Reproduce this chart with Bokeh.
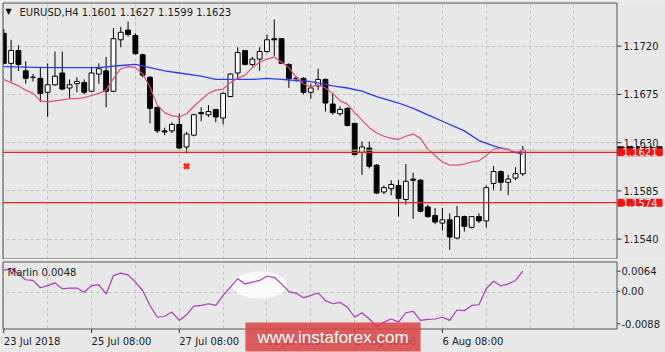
from bokeh.plotting import figure
from bokeh.layouts import column
from bokeh.models import Range1d, FixedTicker, Label
from bokeh.core.properties import value
from bokeh.embed import file_html
from bokeh.resources import INLINE

# ---------------- data ----------------
symbol = "EURUSD,H4"
bars = list(range(72))
opens = [1.1732, 1.1704, 1.1716, 1.1697, 1.1691, 1.1690, 1.1677, 1.1684, 1.1695, 1.1681,
         1.1685, 1.1686, 1.1678, 1.1694, 1.1697, 1.1678, 1.1726, 1.1735, 1.1730, 1.1712,
         1.1691, 1.1663, 1.1641, 1.1641, 1.1647, 1.1626, 1.1637, 1.1658, 1.1656, 1.1661,
         1.1653, 1.1673, 1.1695, 1.1716, 1.1703, 1.1708, 1.1715, 1.1727, 1.1727, 1.1703,
         1.1690, 1.1690, 1.1677, 1.1683, 1.1689, 1.1666, 1.1657, 1.1662, 1.1648, 1.1621,
         1.1625, 1.1609, 1.1584, 1.1587, 1.1590, 1.1577, 1.1596, 1.1595, 1.1570, 1.1562,
         1.1555, 1.1558, 1.1541, 1.1561, 1.1551, 1.1561, 1.1557, 1.1592, 1.1603, 1.1593,
         1.1597, 1.1601]
highs = [1.1736, 1.1726, 1.1721, 1.1706, 1.1694, 1.1700, 1.1704, 1.1715, 1.1715, 1.1689,
         1.1691, 1.1689, 1.1700, 1.1704, 1.1710, 1.1737, 1.1738, 1.1743, 1.1732, 1.1713,
         1.1692, 1.1663, 1.1644, 1.1649, 1.1657, 1.1640, 1.1657, 1.1663, 1.1665, 1.1661,
         1.1677, 1.1695, 1.1719, 1.1716, 1.1710, 1.1719, 1.1731, 1.1745, 1.1727, 1.1704,
         1.1692, 1.1691, 1.1685, 1.1699, 1.1690, 1.1676, 1.1664, 1.1663, 1.1648, 1.1631,
         1.1631, 1.1610, 1.1590, 1.1595, 1.1595, 1.1610, 1.1602, 1.1596, 1.1572, 1.1569,
         1.1569, 1.1564, 1.1571, 1.1562, 1.1561, 1.1564, 1.1590, 1.1608, 1.1604, 1.1600,
         1.1607, 1.1627]
lows = [1.1703, 1.1687, 1.1697, 1.1685, 1.1687, 1.1668, 1.1654, 1.1683, 1.1679, 1.1671,
        1.1677, 1.1675, 1.1677, 1.1685, 1.1663, 1.1677, 1.1719, 1.1729, 1.1712, 1.1691,
        1.1648, 1.1639, 1.1637, 1.1639, 1.1624, 1.1620, 1.1636, 1.1650, 1.1654, 1.1649,
        1.1647, 1.1673, 1.1690, 1.1702, 1.1701, 1.1697, 1.1714, 1.1711, 1.1704, 1.1681,
        1.1687, 1.1675, 1.1671, 1.1679, 1.1659, 1.1656, 1.1655, 1.1645, 1.1618, 1.1600,
        1.1606, 1.1582, 1.1582, 1.1581, 1.1561, 1.1572, 1.1559, 1.1565, 1.1560, 1.1554,
        1.1548, 1.1530, 1.1540, 1.1547, 1.1550, 1.1555, 1.1551, 1.1586, 1.1585, 1.1581,
        1.1595, 1.1599]
closes = [1.1704, 1.1716, 1.1703, 1.1690, 1.1691, 1.1676, 1.1684, 1.1692, 1.1680, 1.1684,
          1.1687, 1.1677, 1.1695, 1.1699, 1.1678, 1.1727, 1.1733, 1.1731, 1.1713, 1.1693,
          1.1662, 1.1641, 1.1640, 1.1647, 1.1625, 1.1638, 1.1656, 1.1657, 1.1659, 1.1654,
          1.1676, 1.1694, 1.1714, 1.1703, 1.1708, 1.1715, 1.1726, 1.1726, 1.1704, 1.1690,
          1.1690, 1.1677, 1.1681, 1.1689, 1.1667, 1.1658, 1.1661, 1.1646, 1.1619, 1.1626,
          1.1608, 1.1583, 1.1588, 1.1591, 1.1578, 1.1594, 1.1595, 1.1566, 1.1561, 1.1556,
          1.1558, 1.1542, 1.1561, 1.1552, 1.1561, 1.1557, 1.1588, 1.1603, 1.1593, 1.1596,
          1.1601, 1.1623]
red_ma = [1.1689, 1.1686, 1.1683, 1.1679, 1.1676, 1.1669, 1.1668, 1.1669, 1.1670, 1.1671,
          1.1671, 1.1672, 1.1674, 1.1676, 1.1679, 1.1690, 1.1699, 1.1701, 1.1700, 1.1694,
          1.1682, 1.1665, 1.1658, 1.1655, 1.1654, 1.1657, 1.1664, 1.1670, 1.1676, 1.1679,
          1.1680, 1.1686, 1.1690, 1.1693, 1.1700, 1.1705, 1.1708, 1.1710, 1.1705, 1.1700,
          1.1691, 1.1685, 1.1682, 1.1684, 1.1681, 1.1676, 1.1669, 1.1666, 1.1658, 1.1651,
          1.1644, 1.1639, 1.1636, 1.1634, 1.1633, 1.1636, 1.1638, 1.1634, 1.1624, 1.1618,
          1.1612, 1.1609, 1.1609, 1.1610, 1.1612, 1.1613, 1.1618, 1.1624, 1.1625, 1.1624,
          1.1621, 1.1622]
blue_ma_bars = [0, 6, 13, 16, 18, 20, 22, 24, 27, 29, 31, 34, 36, 38, 40, 42, 45, 47, 49,
                51, 54, 56, 58, 60, 63, 65, 67, 70, 71]
blue_ma = [1.1701, 1.1700, 1.1700, 1.1702, 1.1703, 1.1700, 1.1697, 1.1695, 1.1692, 1.1689,
           1.1689, 1.1689, 1.1690, 1.1689, 1.1688, 1.1687, 1.1683, 1.1681, 1.1678,
           1.1673, 1.1667, 1.1662, 1.1656, 1.1650, 1.1641, 1.1632, 1.1627, 1.1621, 1.1619]
marlin = [0.0064, 0.0070, 0.0054, 0.0037, 0.0035, 0.0014, 0.0020, 0.0028, 0.0011, 0.0013,
          0.0013, 0.0001, 0.0020, 0.0022, -0.0004, 0.0049, 0.0056, 0.0051, 0.0030, 0.0006,
          -0.0037, -0.0071, -0.0068, -0.0056, -0.0080, -0.0064, -0.0039, -0.0037, -0.0032, -0.0037,
          -0.0008, 0.0016, 0.0040, 0.0025, 0.0030, 0.0035, 0.0047, 0.0044, 0.0025, 0.0003,
          -0.0002, -0.0015, -0.0008, -0.0001, -0.0023, -0.0032, -0.0028, -0.0042, -0.0071, -0.0058,
          -0.0076, -0.0097, -0.0085, -0.0076, -0.0085, -0.0058, -0.0054, -0.0080, -0.0077, -0.0076,
          -0.0071, -0.0080, -0.0050, -0.0052, -0.0037, -0.0035, 0.0011, 0.0033, 0.0019, 0.0025,
          0.0035, 0.0062]
marlin_text = "Marlin 0.0048"
price_ticks = [1.1540, 1.1585, 1.1630, 1.1675, 1.1720]
marlin_ticks = [0.0064, 0.0, -0.0088]
marlin_tick_labels = ["0.0064", "0.00", "-0.0088"]
date_tick_bars = [0, 12, 24, 36, 48, 60]
date_tick_labels = ["23 Jul 2018", "25 Jul 08:00", "27 Jul 08:00", "31 Jul 08:00",
                    "2 Aug 08:00", "6 Aug 08:00"]
level_upper = 1.1621
level_lower = 1.1574
bid_price = 1.1623
mark_bar = 25
mark_price = 1.1608
highlight_bar, highlight_value, highlight_w, highlight_h = 35.0, 0.0022, 7.5, 0.0078
watermark = "www.instaforex.com"

# ---------------- page geometry (pixel -> data helpers for decorations) ----------------
BAR0_PX, BAR_PX = 3.3, 7.31               # bar 0 centre and bar spacing on the page


def bx(px):
    return (px - BAR0_PX) / BAR_PX


def py1(px):                               # main panel (page rows 0..259)
    return 1.1720 - (px - 45.7) * 0.0000933


def py2(px):                               # indicator panel (page rows 259..352)
    return (292.1 - px) / 3475.0


BG = "#e8e8e8"
FONT = "DejaVu Sans"
GRID = "#c2c2c2"
BORDER = "#555555"
TXT = "#1c1c1c"
grid_bars = list(range(0, 85, 6))
x_range = Range1d(bx(0), bx(665))
PANEL_L, PANEL_R = bx(2.5), bx(616.5)


def base(p):
    p.background_fill_color = BG
    p.border_fill_color = BG
    p.outline_line_color = None
    p.xgrid.ticker = FixedTicker(ticks=grid_bars)
    for g in (p.xgrid, p.ygrid):
        g.grid_line_color = GRID
        g.grid_line_dash = "3 3"


def txt(p, xs, ys, texts, align="left", color=TXT, size="10px", font=FONT):
    p.text(x=xs, y=ys, text=texts, text_font=value(font), text_font_size=value(size),
           text_align=value(align), text_baseline=value("middle"), text_color=color)


# ---------------- main price panel ----------------
p1 = figure(width=665, height=259, x_range=x_range, y_range=Range1d(py1(259), py1(0)),
            x_axis_location=None, y_axis_location=None, toolbar_location=None,
            output_backend="svg", min_border=0)
base(p1)
p1.ygrid.ticker = FixedTicker(ticks=price_ticks)

tops = [max(o, c) for o, c in zip(opens, closes)]
bottoms = [min(o, c) for o, c in zip(opens, closes)]
fills = ["white" if c >= o else "black" for o, c in zip(opens, closes)]
p1.segment(x0=bars, y0=highs, x1=bars, y1=lows, line_color="black", line_width=1)
p1.vbar(x=bars, top=tops, bottom=bottoms, width=0.66, fill_color=fills,
        line_color="black", line_width=1)

p1.line(blue_ma_bars, blue_ma, line_color="#2b3cf2", line_width=1.3)
p1.line(bars, red_ma, line_color="#e2506e", line_width=1.2)

p1.segment(x0=[PANEL_L], x1=[PANEL_R], y0=[bid_price], y1=[bid_price],
           line_color="#c4c4c4", line_width=1)
p1.segment(x0=[PANEL_L] * 2, x1=[PANEL_R] * 2, y0=[level_upper, level_lower],
           y1=[level_upper, level_lower], line_color="#ff1a1a", line_width=1.3)
p1.scatter([mark_bar], [mark_price], marker="x", size=7, line_color="#ff2a10", line_width=3)

# background outside the chart box and the box itself
p1.quad(left=[bx(616.5), bx(0), bx(0)], right=[bx(665), bx(2.5), bx(665)],
        bottom=[py1(259), py1(259), py1(2.5)], top=[py1(0), py1(0), py1(0)],
        fill_color=BG, line_color=None)
p1.quad(left=[PANEL_L], right=[PANEL_R], bottom=[py1(258.5)], top=[py1(2.5)],
        fill_color=None, line_color=BORDER, line_width=1)

# right price scale
p1.segment(x0=[PANEL_R] * len(price_ticks), x1=[bx(621)] * len(price_ticks),
           y0=price_ticks, y1=price_ticks, line_color="#303030", line_width=1)
txt(p1, [bx(623)] * len(price_ticks), price_ticks, [f"{t:.4f}" for t in price_ticks])

header = f"{symbol}  {opens[-1]:.4f} {highs[-1]:.4f} {lows[-1]:.4f} {closes[-1]:.4f}"
p1.add_layout(Label(x=bx(8), y=py1(11), text="\u25bc", text_font=FONT, text_font_size="8px",
                    text_color="black", text_align="center", text_baseline="middle"))
p1.add_layout(Label(x=bx(19), y=py1(11.7), text=header, text_font=FONT, text_font_size="10px",
                    text_color=TXT, text_align="left", text_baseline="middle"))

# price tags
p1.add_layout(Label(x=bx(617), y=bid_price, text=f"{bid_price:.4f}", text_font=FONT,
                    text_font_size="10px", text_color="white", background_fill_color="black",
                    text_align="left", text_baseline="middle", padding=(5, 0)))
for lvl in (level_upper, level_lower):
    p1.add_layout(Label(x=bx(617), y=lvl, text=f"{lvl:.4f}", text_font=FONT,
                        text_font_size="10px", text_color="white",
                        background_fill_color="#ff1010",
                        text_align="left", text_baseline="middle", padding=(5, 0)))

# ---------------- indicator panel ----------------
p2 = figure(width=665, height=93, x_range=x_range, y_range=Range1d(py2(352), py2(259)),
            x_axis_location=None, y_axis_location=None, toolbar_location=None,
            output_backend="svg", min_border=0)
base(p2)
p2.ygrid.ticker = FixedTicker(ticks=[0.0])

p2.ellipse(x=[highlight_bar], y=[highlight_value], width=highlight_w, height=highlight_h,
           fill_color="white", fill_alpha=0.8, line_color=None)
p2.line(bars, marlin, line_color="#a83cb8", line_width=1.2)

p2.quad(left=[bx(616.5), bx(0), bx(0), bx(0)], right=[bx(665), bx(2.5), bx(665), bx(665)],
        bottom=[py2(352), py2(352), py2(352), py2(261.5)],
        top=[py2(259), py2(259), py2(328.5), py2(259)],
        fill_color=BG, line_color=None)
p2.quad(left=[PANEL_L], right=[PANEL_R], bottom=[py2(328.5)], top=[py2(261.5)],
        fill_color=None, line_color=BORDER, line_width=1)

# right indicator scale (labels drawn just inside the extremes, as in the terminal)
marlin_label_px = [270.7, 290.7, 323.3]
p2.segment(x0=[PANEL_R] * 3, x1=[bx(620)] * 3, y0=[py2(v) for v in marlin_label_px],
           y1=[py2(v) for v in marlin_label_px], line_color="#303030", line_width=1)
txt(p2, [bx(621)] * 3, [py2(v) for v in marlin_label_px], marlin_tick_labels)

# time scale
p2.segment(x0=date_tick_bars, x1=date_tick_bars, y0=[py2(328.5)] * len(date_tick_bars),
           y1=[py2(332.5)] * len(date_tick_bars), line_color="#303030", line_width=1)
txt(p2, date_tick_bars, [py2(341)] * len(date_tick_bars), date_tick_labels)

p2.add_layout(Label(x=bx(7), y=py2(271.7), text=marlin_text, text_font=FONT,
                    text_font_size="10px", text_color=TXT, text_align="left",
                    text_baseline="middle"))
p2.add_layout(Label(x=bx(332.5), y=py2(336.5), text=watermark, text_font="Liberation Sans",
                    text_font_size="17px", text_color="white",
                    background_fill_color="#d94848", background_fill_alpha=0.88,
                    text_align="center", text_baseline="middle", padding=(12, 5)))

layout = column(p1, p2, spacing=0)
open("out.html", "w").write(file_html(layout, INLINE, title="EURUSD H4"))
